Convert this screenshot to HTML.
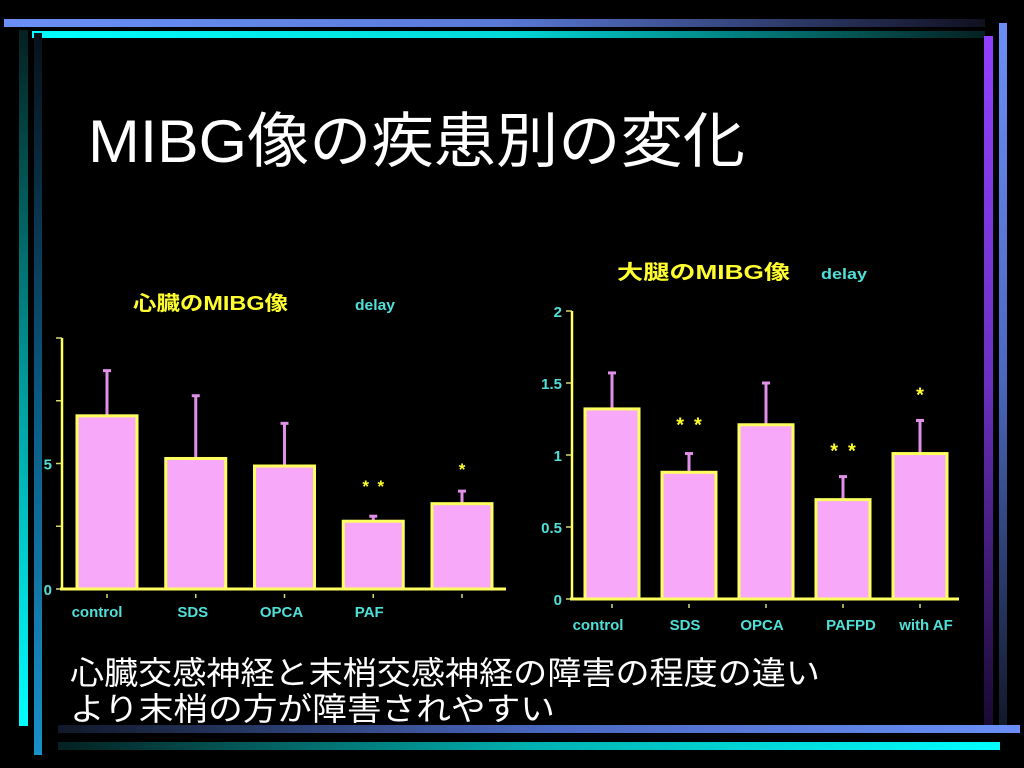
<!DOCTYPE html>
<html><head><meta charset="utf-8"><style>
html,body{margin:0;padding:0;background:#000;}
svg{display:block;font-family:"Liberation Sans","Noto Sans CJK JP",sans-serif;}
</style></head><body>
<svg width="1024" height="768" viewBox="0 0 1024 768">
<defs>
<linearGradient id="gTopBlue" x1="0" x2="1"><stop offset="0" stop-color="#6a90f8"/><stop offset="0.5" stop-color="#5a7ad8"/><stop offset="1" stop-color="#101020"/></linearGradient>
<linearGradient id="gTopCyan" x1="0" x2="1"><stop offset="0" stop-color="#00ffff"/><stop offset="0.5" stop-color="#00d8d8"/><stop offset="1" stop-color="#052020"/></linearGradient>
<linearGradient id="gBotBlue" x1="0" x2="1"><stop offset="0" stop-color="#101828"/><stop offset="0.5" stop-color="#4a68c0"/><stop offset="1" stop-color="#6a90f8"/></linearGradient>
<linearGradient id="gBotCyan" x1="0" x2="1"><stop offset="0" stop-color="#052020"/><stop offset="0.5" stop-color="#00b0b0"/><stop offset="1" stop-color="#00ffff"/></linearGradient>
<linearGradient id="gLeftCyan" x1="0" y1="0" x2="0" y2="1"><stop offset="0" stop-color="#052020"/><stop offset="0.5" stop-color="#009898"/><stop offset="1" stop-color="#00ffff"/></linearGradient>
<linearGradient id="gLeftBlue" x1="0" y1="0" x2="0" y2="1"><stop offset="0" stop-color="#081018"/><stop offset="0.5" stop-color="#0a5880"/><stop offset="1" stop-color="#1890c8"/></linearGradient>
<linearGradient id="gRightPurple" x1="0" y1="0" x2="0" y2="1"><stop offset="0" stop-color="#9040ff"/><stop offset="0.5" stop-color="#6a30c0"/><stop offset="1" stop-color="#180830"/></linearGradient>
<linearGradient id="gRightBlue" x1="0" y1="0" x2="0" y2="1"><stop offset="0" stop-color="#6a90f8"/><stop offset="0.5" stop-color="#4a68c0"/><stop offset="1" stop-color="#101828"/></linearGradient>
</defs>
<g>
<rect x="4" y="19" width="981" height="8" fill="url(#gTopBlue)"/>
<rect x="32" y="31" width="953" height="7" fill="url(#gTopCyan)"/>
<rect x="19" y="30" width="9" height="696" fill="url(#gLeftCyan)"/>
<rect x="34" y="33" width="8" height="722" fill="url(#gLeftBlue)"/>
<rect x="984" y="36" width="9" height="694" fill="url(#gRightPurple)"/>
<rect x="999" y="23" width="8" height="707" fill="url(#gRightBlue)"/>
<rect x="58" y="725" width="962" height="8" fill="url(#gBotBlue)"/>
<rect x="58" y="742" width="942" height="8" fill="url(#gBotCyan)"/>
</g>
<text x="88" y="162" font-size="60" fill="#fff" textLength="657" lengthAdjust="spacingAndGlyphs">MIBG像の疾患別の変化</text>
<text x="70" y="684" font-size="32" fill="#fff" textLength="750" lengthAdjust="spacingAndGlyphs">心臓交感神経と末梢交感神経の障害の程度の違い</text>
<text x="70" y="720" font-size="32" fill="#fff" textLength="485" lengthAdjust="spacingAndGlyphs">より末梢の方が障害されやすい</text>
<g id="chart1"></g>
<g id="chart2"></g>
</svg>
<script>
const heartCats = ["control","SDS","OPCA","PAF",""];
const heartValues = [6.9,5.2,4.9,2.7,3.4];
const heartErrTops = [8.7,7.7,6.6,2.9,3.9];
const heartMarks = ["","","","* *","*"];
const heartTicks = [0,2.5,5,7.5,10];
const heartTickLabels = ["0","","5","",""];

const thighCats = ["control","SDS","OPCA","PAFPD","with AF"];
const thighValues = [1.32,0.88,1.21,0.69,1.01];
const thighErrTops = [1.57,1.01,1.5,0.85,1.24];
const thighMarks = ["","* *","","* *","*"];
const thighTicks = [0,0.5,1,1.5,2];
const thighTickLabels = ["0","0.5","1","1.5","2"];

const NS="http://www.w3.org/2000/svg";
function mk(parent,tag,attrs,text){const e=document.createElementNS(NS,tag);for(const k in attrs)e.setAttribute(k,attrs[k]);if(text!==undefined)e.textContent=text;parent.appendChild(e);return e;}

function drawChart(g,o){
  const y=v=>o.y0-(v-o.min)/(o.max-o.min)*(o.y0-o.yTop);
  const x=i=>o.x0+o.first+i*o.step;
  let t=mk(g,'text',{x:o.titleX,y:o.titleY,'font-size':20,'font-weight':'bold',fill:'#ffff30',textLength:o.titleW,lengthAdjust:'spacingAndGlyphs'},o.title);
  
  
  t=mk(g,'text',{x:o.delayX,y:o.titleY,'font-size':15,'font-weight':'bold',fill:'#50e0d8',textLength:o.delayW,lengthAdjust:'spacingAndGlyphs'},'delay');
  
  
  o.ticks.forEach((v,i)=>{
    const tk=mk(g,'line',{x1:o.x0-6,x2:o.x0,y1:y(v),y2:y(v),stroke:'#d8d870','stroke-width':1.5});
    
    
    if(o.tickLabels[i]){
      const tl=mk(g,'text',{x:o.x0-10,y:y(v)+6,'font-size':15,'font-weight':'bold',fill:'#50e0d8','text-anchor':'end'},o.tickLabels[i]);
      
      
    }
  });
  o.values.forEach((v,i)=>{
    const cx=x(i);
    const eb=mk(g,'line',{x1:cx,x2:cx,y1:y(v),y2:y(o.err[i]),stroke:'#e090e8','stroke-width':3});
    
    
    const ec=mk(g,'line',{x1:cx-4,x2:cx+4,y1:y(o.err[i]),y2:y(o.err[i]),stroke:'#e090e8','stroke-width':3});
    
    
    const b=mk(g,'rect',{x:cx-o.bw/2,y:y(v),width:o.bw,height:o.y0-y(v),fill:'#f8a8f8',stroke:'#ffff60','stroke-width':3});
    
    
    const xt=mk(g,'line',{x1:cx,x2:cx,y1:o.y0+5,y2:o.y0+9,stroke:'#d8d870','stroke-width':1.5});
    
    
    if(o.cats[i]){
      const l=mk(g,'text',{x:cx-o.labOff+(o.labShift[i]||0),y:o.y0+o.labDy,'font-size':15,'font-weight':'bold',fill:'#50e0d8','text-anchor':'middle'},o.cats[i]);
      
      
    }
    if(o.marks[i]){
      const m=mk(g,'text',{x:cx,y:y(o.err[i])-o.markGap[i],'font-size':o.markSize,'font-weight':'bold',fill:'#ffff30','text-anchor':'middle','xml:space':'preserve'},o.marks[i].replace(' ','\u2002'));
      
      
    }
  });
  const ax=mk(g,'line',{x1:o.x0,x2:o.x0,y1:o.yTop,y2:o.y0,stroke:'#ffff60','stroke-width':2.5});
  
  
  const xa=mk(g,'line',{x1:o.x0-2,x2:o.xEnd,y1:o.y0,y2:o.y0,stroke:'#ffff60','stroke-width':3});
  
  
}
drawChart(document.getElementById('chart1'),{cats:heartCats,values:heartValues,err:heartErrTops,marks:heartMarks,ticks:heartTicks,tickLabels:heartTickLabels,
 min:0,max:10,x0:62,y0:589,yTop:338,xEnd:506,first:45,step:88.75,bw:60,labOff:10,labShift:[0,7,7,6,0],labDy:28,markGap:[0,0,0,24,16],markSize:17,
 title:'心臓のMIBG像',titleW:155,titleX:133,titleY:310,delayX:355,delayW:40});
drawChart(document.getElementById('chart2'),{cats:thighCats,values:thighValues,err:thighErrTops,marks:thighMarks,ticks:thighTicks,tickLabels:thighTickLabels,
 min:0,max:2,x0:572,y0:599,yTop:311,xEnd:959,first:40,step:77,bw:54,labOff:14,labShift:[0,10,10,22,20],labDy:31,markGap:[0,22,0,19,19],markSize:20,
 title:'大腿のMIBG像',titleW:173,titleX:617,titleY:279,delayX:821,delayW:46});
</script>
</body></html>
